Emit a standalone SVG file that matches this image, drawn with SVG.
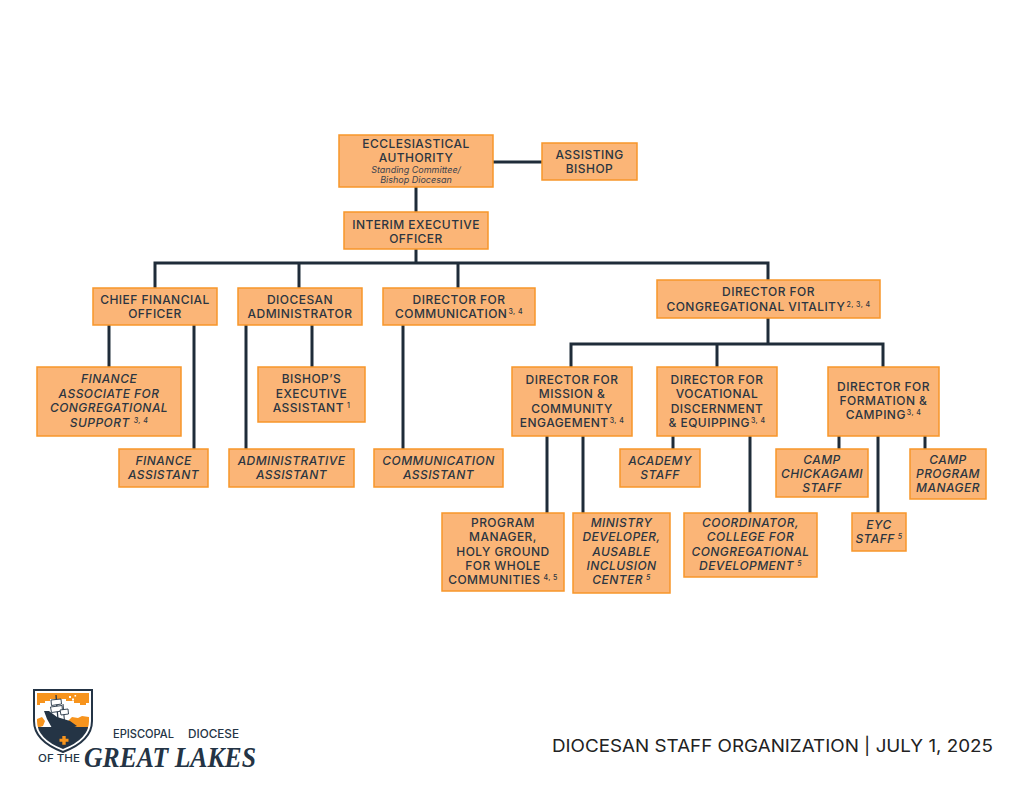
<svg xmlns="http://www.w3.org/2000/svg" width="1024" height="791" viewBox="0 0 1024 791">
<defs>
<style>
.box{fill:#FBB577;stroke:#F7962A;stroke-width:1.5}
.t{font-family:Inter,"Liberation Sans","Noto Sans",sans-serif;font-size:12px;font-weight:500;fill:#2C3541;text-anchor:middle;letter-spacing:0.45px}
.i{font-style:italic}
.s{font-family:Inter,"Liberation Sans",sans-serif;font-size:9px;font-style:italic;fill:#3A4350;text-anchor:middle}
.sup{font-size:7px}
.ln{fill:none;stroke:#1F2C39;stroke-width:3}
.lg{font-family:Inter,"Liberation Sans",sans-serif;font-weight:500;fill:#243445}
.sail{fill:#ffffff;stroke:#243445;stroke-width:0.9}
</style>
<clipPath id="shieldIn"><path d="M37,693 H89 V721 Q89,739 63,749 Q37,739 37,721 Z"/></clipPath>
</defs>
<rect width="1024" height="791" fill="#ffffff"/>

<g id="connectors" class="ln">
<path d="M493,162 H542"/>
<path d="M416,187 V212"/>
<path d="M416,249 V263"/>
<path d="M155,288 V263 H768 V280"/>
<path d="M299,263 V288"/>
<path d="M458,263 V288"/>
<path d="M109,325 V367"/>
<path d="M194,325 V449"/>
<path d="M246,325 V449"/>
<path d="M312,325 V367"/>
<path d="M403,325 V449"/>
<path d="M768,318 V344"/>
<path d="M571,367 V344 H883 V367"/>
<path d="M717,344 V367"/>
<path d="M547,436 V513"/>
<path d="M583,436 V513"/>
<path d="M673,436 V449"/>
<path d="M750,436 V513"/>
<path d="M839,436 V449"/>
<path d="M878,436 V513"/>
<path d="M925,436 V449"/>
</g>

<g id="ecclesiastical-authority">
<rect class="box" x="339" y="135" width="154" height="52"/>
<text class="t" x="416" y="148">ECCLESIASTICAL</text>
<text class="t" x="416" y="162">AUTHORITY</text>
<text class="s" x="416" y="173">Standing Committee/</text>
<text class="s" x="416" y="183">Bishop Diocesan</text>
</g>
<g id="assisting-bishop">
<rect class="box" x="542" y="143" width="95" height="37"/>
<text class="t" x="589.5" y="159">ASSISTING</text>
<text class="t" x="589.5" y="173">BISHOP</text>
</g>
<g id="interim-executive-officer">
<rect class="box" x="344" y="212" width="144" height="37"/>
<text class="t" x="416" y="229">INTERIM EXECUTIVE</text>
<text class="t" x="416" y="243">OFFICER</text>
</g>
<g id="chief-financial-officer">
<rect class="box" x="93" y="288" width="124" height="37"/>
<text class="t" x="155" y="304">CHIEF FINANCIAL</text>
<text class="t" x="155" y="318">OFFICER</text>
</g>
<g id="diocesan-administrator">
<rect class="box" x="238" y="288" width="124" height="37"/>
<text class="t" x="300" y="304">DIOCESAN</text>
<text class="t" x="300" y="318">ADMINISTRATOR</text>
</g>
<g id="director-communication">
<rect class="box" x="383" y="288" width="152" height="37"/>
<text class="t" x="459" y="304">DIRECTOR FOR</text>
<text class="t" x="459" y="318">COMMUNICATION<tspan class="sup" dy="-4" dx="1">3, 4</tspan></text>
</g>
<g id="director-congregational-vitality">
<rect class="box" x="657" y="280" width="223" height="38"/>
<text class="t" x="768.5" y="296">DIRECTOR FOR</text>
<text class="t" x="768.5" y="311">CONGREGATIONAL VITALITY<tspan class="sup" dy="-4" dx="1">2, 3, 4</tspan></text>
</g>
<g id="finance-associate">
<rect class="box" x="37" y="367" width="144" height="69"/>
<text class="t i" x="109" y="383">FINANCE</text>
<text class="t i" x="109" y="397.5">ASSOCIATE FOR</text>
<text class="t i" x="109" y="412">CONGREGATIONAL</text>
<text class="t i" x="109" y="426.5">SUPPORT<tspan class="sup" dy="-4" dx="4">3, 4</tspan></text>
</g>
<g id="bishops-executive-assistant">
<rect class="box" x="258" y="367" width="107" height="55"/>
<text class="t" x="311.5" y="383">BISHOP’S</text>
<text class="t" x="311.5" y="397.5">EXECUTIVE</text>
<text class="t" x="311.5" y="412">ASSISTANT<tspan class="sup" dy="-4" dx="3">1</tspan></text>
</g>
<g id="finance-assistant">
<rect class="box" x="119" y="449" width="89" height="38"/>
<text class="t i" x="163.5" y="465">FINANCE</text>
<text class="t i" x="163.5" y="479">ASSISTANT</text>
</g>
<g id="administrative-assistant">
<rect class="box" x="229" y="449" width="125" height="38"/>
<text class="t i" x="291.5" y="465">ADMINISTRATIVE</text>
<text class="t i" x="291.5" y="479">ASSISTANT</text>
</g>
<g id="communication-assistant">
<rect class="box" x="374" y="449" width="129" height="38"/>
<text class="t i" x="438.5" y="465">COMMUNICATION</text>
<text class="t i" x="438.5" y="479">ASSISTANT</text>
</g>
<g id="director-mission">
<rect class="box" x="512" y="367" width="120" height="69"/>
<text class="t" x="572" y="384">DIRECTOR FOR</text>
<text class="t" x="572" y="398">MISSION &amp;</text>
<text class="t" x="572" y="412.5">COMMUNITY</text>
<text class="t" x="572" y="427">ENGAGEMENT<tspan class="sup" dy="-4" dx="1">3, 4</tspan></text>
</g>
<g id="director-vocational">
<rect class="box" x="657" y="367" width="120" height="69"/>
<text class="t" x="717" y="384">DIRECTOR FOR</text>
<text class="t" x="717" y="398">VOCATIONAL</text>
<text class="t" x="717" y="412.5">DISCERNMENT</text>
<text class="t" x="717" y="427">&amp; EQUIPPING<tspan class="sup" dy="-4" dx="1">3, 4</tspan></text>
</g>
<g id="director-formation">
<rect class="box" x="828" y="367" width="111" height="69"/>
<text class="t" x="883.5" y="391">DIRECTOR FOR</text>
<text class="t" x="883.5" y="405">FORMATION &amp;</text>
<text class="t" x="883.5" y="419">CAMPING<tspan class="sup" dy="-4" dx="1">3, 4</tspan></text>
</g>
<g id="academy-staff">
<rect class="box" x="620" y="449" width="80" height="38"/>
<text class="t i" x="660" y="465">ACADEMY</text>
<text class="t i" x="660" y="479">STAFF</text>
</g>
<g id="camp-chickagami-staff">
<rect class="box" x="776" y="449" width="92" height="48"/>
<text class="t i" x="822" y="464">CAMP</text>
<text class="t i" x="822" y="478">CHICKAGAMI</text>
<text class="t i" x="822" y="492">STAFF</text>
</g>
<g id="camp-program-manager">
<rect class="box" x="910" y="449" width="76" height="50"/>
<text class="t i" x="948" y="464">CAMP</text>
<text class="t i" x="948" y="478">PROGRAM</text>
<text class="t i" x="948" y="492">MANAGER</text>
</g>
<g id="eyc-staff">
<rect class="box" x="852" y="513" width="54" height="38"/>
<text class="t i" x="879" y="529">EYC</text>
<text class="t i" x="879" y="543">STAFF<tspan class="sup" dy="-4" dx="3">5</tspan></text>
</g>
<g id="program-manager">
<rect class="box" x="442" y="513" width="122" height="78"/>
<text class="t" x="503" y="527">PROGRAM</text>
<text class="t" x="503" y="541">MANAGER,</text>
<text class="t" x="503" y="555.5">HOLY GROUND</text>
<text class="t" x="503" y="569.5">FOR WHOLE</text>
<text class="t" x="503" y="584">COMMUNITIES<tspan class="sup" dy="-4" dx="3">4, 5</tspan></text>
</g>
<g id="ministry-developer">
<rect class="box" x="573" y="513" width="97" height="80"/>
<text class="t i" x="621.5" y="527">MINISTRY</text>
<text class="t i" x="621.5" y="541">DEVELOPER,</text>
<text class="t i" x="621.5" y="555.5">AUSABLE</text>
<text class="t i" x="621.5" y="569.5">INCLUSION</text>
<text class="t i" x="621.5" y="584">CENTER<tspan class="sup" dy="-4" dx="3">5</tspan></text>
</g>
<g id="coordinator-college">
<rect class="box" x="684" y="513" width="133" height="64"/>
<text class="t i" x="750.5" y="527">COORDINATOR,</text>
<text class="t i" x="750.5" y="541">COLLEGE FOR</text>
<text class="t i" x="750.5" y="555.5">CONGREGATIONAL</text>
<text class="t i" x="750.5" y="569.5">DEVELOPMENT<tspan class="sup" dy="-4" dx="3">5</tspan></text>
</g>

<g id="logo">
<path d="M34,690 H92 V721 Q92,741 63,752 Q34,741 34,721 Z" fill="#ffffff" stroke="#243445" stroke-width="2"/>
<g clip-path="url(#shieldIn)">
<rect x="37" y="693" width="52" height="60" fill="#ffffff"/>
<path d="M37,693 H89 V703 L86,703 L86,705 L80,705 L80,703 L74,703 L74,701 L66,701 L66,699 L50,699 L50,701 L45,701 L45,703 L40,703 L40,705 L37,705 Z" fill="#F7941D"/>
<rect x="69" y="696" width="2" height="2" fill="#ffffff"/>
<rect x="72" y="698.5" width="2" height="2" fill="#ffffff"/>
<rect x="74.5" y="695" width="1.6" height="1.6" fill="#ffffff"/>
<path d="M37,719 L42,717 L45,721 L43,726 L37,728 Z" fill="#F7941D"/>
<path d="M68,721 L72,717 L78,718 L82,716 L89,717 V729 L70,729 Z" fill="#F7941D"/>
<rect x="37" y="727" width="52" height="26" fill="#243445"/>
<line x1="56" y1="695" x2="58" y2="720" stroke="#243445" stroke-width="1.3"/>
<line x1="63" y1="704" x2="64.5" y2="722" stroke="#243445" stroke-width="1"/>
<path class="sail" d="M51,700 L61,699 L61.5,704 L51.5,705.5 Z"/>
<path class="sail" d="M50.5,707 L62,705.5 L62.5,711 L51.5,712.5 Z"/>
<path class="sail" d="M60,710 L68,709 L68.5,714 L61,715 Z"/>
<path d="M44,711 L49,711 L57,717 L70,721 L77,726 L64,731 L52,728 L47,719 Z" fill="#243445"/>
<path d="M62.3,736 h3.4 v2.8 h2.8 v3 h-2.8 v3 h-3.4 v-3 h-2.8 v-3 h2.8 Z" fill="#F7941D"/>
</g>
<text class="lg" x="113" y="738" textLength="61" lengthAdjust="spacingAndGlyphs" font-size="11.5">EPISCOPAL</text>
<text class="lg" x="188" y="738" textLength="51" lengthAdjust="spacingAndGlyphs" font-size="11.5">DIOCESE</text>
<text class="lg" x="38" y="762" textLength="42" lengthAdjust="spacingAndGlyphs" font-size="10.5">OF THE</text>
<text x="84" y="767" textLength="172" lengthAdjust="spacingAndGlyphs" font-family="'Liberation Serif',serif" font-size="29" font-weight="bold" font-style="italic" fill="#243445">GREAT LAKES</text>
</g>

<g id="footer">
<text x="552" y="752" textLength="441" lengthAdjust="spacingAndGlyphs" font-family="Inter,'Liberation Sans',sans-serif" font-size="17" fill="#222222">DIOCESAN STAFF ORGANIZATION | JULY 1, 2025</text>
</g>
</svg>
